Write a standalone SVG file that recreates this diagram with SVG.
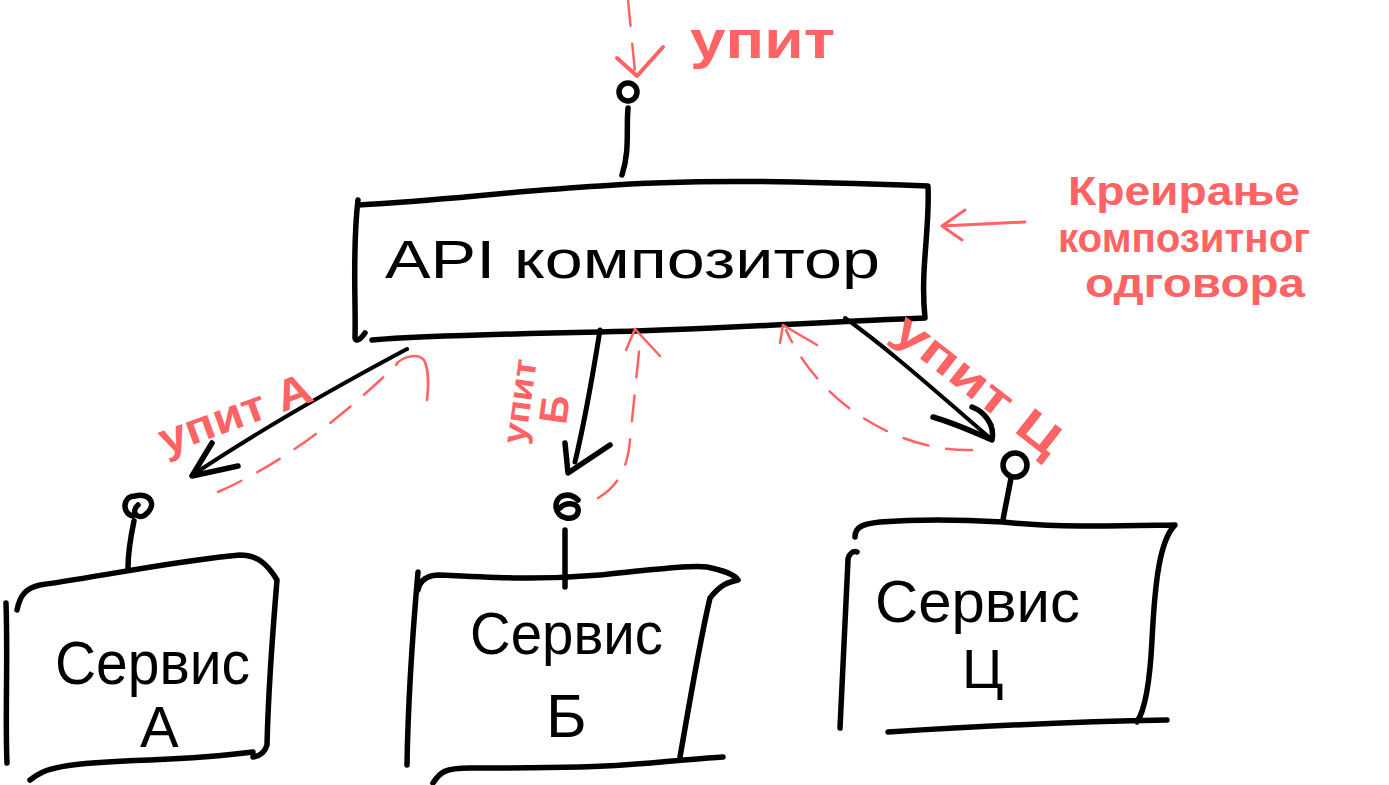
<svg xmlns="http://www.w3.org/2000/svg" width="1389" height="785" viewBox="0 0 1389 785">
<style>
.ink{fill:none;stroke:#000;stroke-width:5.5;stroke-linecap:round;stroke-linejoin:round}
.thin{fill:none;stroke:#000;stroke-width:4;stroke-linecap:round;stroke-linejoin:round}
.red{fill:none;stroke:#ff6363;stroke-width:2.5;stroke-linecap:round;stroke-linejoin:round}
.dash{stroke-dasharray:26 18}
.bt{font-family:"Liberation Sans","DejaVu Sans",sans-serif;fill:#000}
.rt{font-family:"Liberation Sans","DejaVu Sans",sans-serif;fill:#ff6363;font-weight:bold}
</style>
<rect width="1389" height="785" fill="#fff"/>

<g id="request-top">
<path class="red dash" d="M628 0 L635 72"/>
<path class="red" d="M617 58 L637 76 L663 47" style="stroke-width:4"/>
<text class="rt" x="690" y="58" font-size="54" textLength="145" lengthAdjust="spacingAndGlyphs">упит</text>
</g>

<g id="api-composer">
<circle class="ink" cx="628" cy="92" r="9"/>
<path class="ink" d="M628 108 C626 130 630 150 622 175"/>
<path class="ink" d="M358 205 C450 200 500 192 600 186 C700 178 820 182 928 186 C930 230 920 270 925 318 C820 322 700 330 600 332 C500 334 420 336 372 340 M358 200 C352 250 356 300 355 338 C356 342 360 340 365 333"/>
<text class="bt" x="385" y="278" font-size="54" textLength="495" lengthAdjust="spacingAndGlyphs">API композитор</text>
</g>

<g id="composite-response">
<path class="red" d="M1025 222 L942 226 M965 210 L942 226 L962 240" style="stroke-width:3"/>
<text class="rt" font-size="40">
<tspan x="1068" y="205" textLength="232" lengthAdjust="spacingAndGlyphs">Креирање</tspan>
<tspan x="1058" y="252" textLength="252" lengthAdjust="spacingAndGlyphs">композитног</tspan>
<tspan x="1085" y="297" textLength="220" lengthAdjust="spacingAndGlyphs">одговора</tspan>
</text>
</g>

<g id="service-a">
<path class="ink" d="M133 516 C122 514 122 496 135 496 C150 492 158 505 145 515 C138 520 130 512 138 505"/>
<path class="ink" d="M134 521 C130 540 128 555 128 568"/>
<path class="ink" d="M17 610 C20 595 26 588 40 585 C110 575 180 560 240 555 C258 555 268 565 277 580 C272 640 268 700 267 745 C265 752 260 756 253 757 M6 603 C8 660 5 720 7 763 M30 780 C45 768 60 763 150 760 C200 758 230 755 253 752"/>
<text class="bt" x="55" y="684" font-size="62" textLength="195" lengthAdjust="spacingAndGlyphs">Сервис</text>
<text class="bt" x="140" y="747" font-size="58">А</text>
</g>

<g id="service-b">
<path class="ink" d="M578 500 C570 492 556 494 556 506 C556 520 576 522 578 512 C580 502 566 502 560 508"/>
<path class="ink" d="M565 530 L565 587"/>
<path class="ink" d="M418 590 C420 580 428 575 440 575 C500 578 540 580 600 575 C650 570 690 565 707 567 C722 570 735 575 738 580 C728 582 720 585 710 598 C700 640 690 700 680 757 M418 572 C412 640 408 700 407 765 M433 783 C440 772 445 768 470 768 C540 768 600 767 623 765 C670 762 700 758 723 757"/>
<text class="bt" x="470" y="654" font-size="60" textLength="193" lengthAdjust="spacingAndGlyphs">Сервис</text>
<text class="bt" x="546" y="737" font-size="62">Б</text>
</g>

<g id="service-c">
<circle class="ink" cx="1015" cy="465" r="12"/>
<path class="ink" d="M1011 478 C1008 495 1005 508 1003 520"/>
<path class="ink" d="M855 537 C855 527 862 524 880 522 C930 518 970 520 1003 522 C1060 528 1120 526 1175 525 C1160 540 1155 580 1152 640 C1150 680 1145 710 1137 722 M857 552 C852 550 848 556 848 560 C845 620 842 680 840 728 M888 732 C950 728 1050 722 1167 720"/>
<text class="bt" x="875" y="622" font-size="60" textLength="205" lengthAdjust="spacingAndGlyphs">Сервис</text>
<text class="bt" x="962" y="688" font-size="56">Ц</text>
</g>

<g id="connectors">
<path class="thin" d="M407 349 C330 390 260 430 194 474"/>
<path class="ink" d="M212 443 L192 476 L238 466"/>
<path class="thin" d="M600 330 C592 380 585 420 575 462" style="stroke-width:5"/>
<path class="ink" d="M565 443 L568 473 L610 445"/>
<path class="thin" d="M845 318 C890 350 940 395 990 438"/>
<path class="ink" d="M933 417 C960 425 980 435 992 440 C995 425 985 412 972 407"/>

<path class="red dash" d="M218 492 C290 460 350 410 397 364"/>
<path class="red" d="M397 363 C405 356 420 352 425 362 C430 375 428 390 427 400"/>
<path class="red dash" d="M598 498 C620 485 628 465 630 440 L640 342"/>
<path class="red" d="M626 350 L635 329 L660 356"/>
<path class="red dash" d="M972 450 C900 452 820 405 786 330"/>
<path class="red" d="M780 343 L783 325 L817 345"/>

<text class="rt" transform="translate(165 455) rotate(-20)" font-size="44" textLength="160" lengthAdjust="spacingAndGlyphs">упит А</text>
<text class="rt" transform="translate(525 445) rotate(-82)" font-size="34">
<tspan x="0" y="0" textLength="85" lengthAdjust="spacingAndGlyphs">упит</tspan>
<tspan x="25" y="38" font-size="40">Б</tspan>
</text>
<text class="rt" transform="translate(890 335) rotate(38)" font-size="46" textLength="200" lengthAdjust="spacingAndGlyphs">упит Ц</text>
</g>
</svg>
